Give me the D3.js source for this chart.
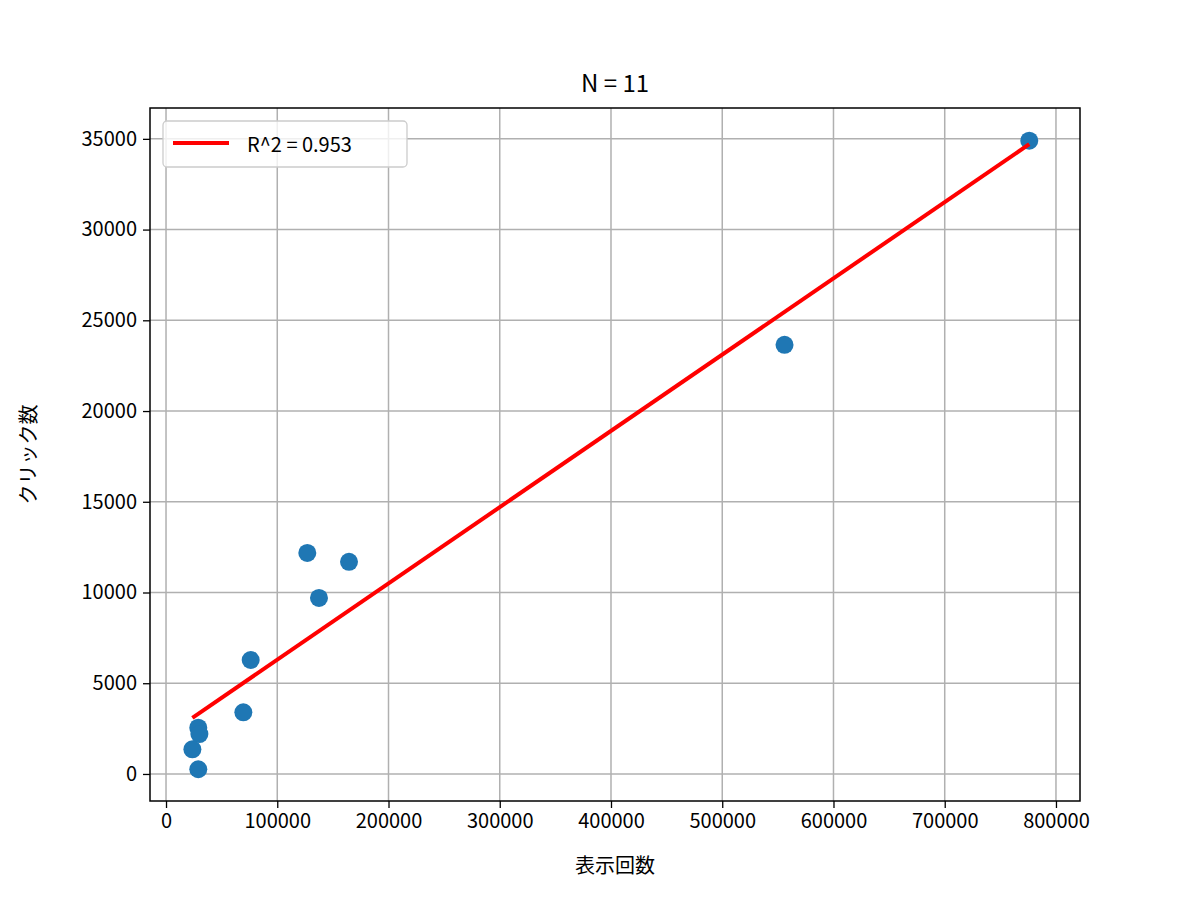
<!DOCTYPE html>
<html><head><meta charset="utf-8">
<script src="https://cdn.jsdelivr.net/npm/d3@7"></script>
<style>body{margin:0;background:#fff}</style>
</head><body>
<svg id="chart" width="1200" height="900"></svg>
<script>
// impressions vs clicks
const impressions = [776000, 556000, 127000, 137500, 164500, 76100, 69500, 29000, 30000, 23700, 29000];
const clicks = [34900, 23650, 12180, 9700, 11690, 6280, 3400, 2550, 2200, 1360, 260];
const xTicks = [0, 100000, 200000, 300000, 400000, 500000, 600000, 700000, 800000];
const yTicks = [0, 5000, 10000, 15000, 20000, 25000, 30000, 35000];
const fitSlope = 0.04203;
const fitIntercept = 2094;
const fitLabel = "R^2 = 0.953";

const svg = d3.select("#chart");
const font = "'Noto Sans CJK JP', 'DejaVu Sans', sans-serif";
const L = 150, R = 1080, T = 108, B = 801;

const x = d3.scaleLinear().domain([-14400, 821600]).range([L, R]);
const y = d3.scaleLinear().domain([-1490, 36700]).range([B, T]);

// grid
svg.append("g").selectAll("line").data(xTicks).join("line")
    .attr("x1", d => x(d)).attr("x2", d => x(d)).attr("y1", T).attr("y2", B)
    .attr("stroke", "#b0b0b0").attr("stroke-width", 1.5);
svg.append("g").selectAll("line").data(yTicks).join("line")
    .attr("y1", d => y(d)).attr("y2", d => y(d)).attr("x1", L).attr("x2", R)
    .attr("stroke", "#b0b0b0").attr("stroke-width", 1.5);

const xAxis = svg.append("g").attr("transform", "translate(0," + B + ")")
    .call(d3.axisBottom(x).tickValues(xTicks).tickFormat(d3.format("d")).tickSize(7).tickPadding(6));
const yAxis = svg.append("g").attr("transform", "translate(" + L + ",0)")
    .call(d3.axisLeft(y).tickValues(yTicks).tickFormat(d3.format("d")).tickSize(7).tickPadding(6));
[xAxis, yAxis].forEach(a => {
    a.select(".domain").remove();
    a.selectAll("text").style("font-family", font).style("font-size", "20px").attr("fill", "#000");
    a.selectAll("line").attr("stroke", "#000").attr("stroke-width", 1.3);
});

// points
svg.append("g").selectAll("circle").data(impressions).join("circle")
    .attr("cx", d => x(d)).attr("cy", (d, i) => y(clicks[i])).attr("r", 9)
    .attr("fill", "#1f77b4");

// fit line
const xmin = d3.min(impressions), xmax = d3.max(impressions);
svg.append("line")
    .attr("x1", x(xmin)).attr("y1", y(fitSlope * xmin + fitIntercept))
    .attr("x2", x(xmax)).attr("y2", y(fitSlope * xmax + fitIntercept))
    .attr("stroke", "red").attr("stroke-width", 4);

// frame
svg.append("rect").attr("x", L).attr("y", T).attr("width", R - L).attr("height", B - T)
    .attr("fill", "none").attr("stroke", "#000").attr("stroke-width", 1.5);

// legend
svg.append("rect").attr("x", 163).attr("y", 121).attr("width", 244).attr("height", 46).attr("rx", 4)
    .attr("fill", "#fff").attr("fill-opacity", 0.8).attr("stroke", "#ccc").attr("stroke-width", 1.3);
svg.append("line").attr("x1", 173).attr("x2", 229).attr("y1", 143).attr("y2", 143)
    .attr("stroke", "red").attr("stroke-width", 4);
svg.append("text").text(fitLabel).attr("x", 247).attr("y", 143).attr("dominant-baseline", "central")
    .style("font-family", font).style("font-size", "20px");

// titles
svg.append("text").text("N = 11").attr("x", (L + R) / 2).attr("y", 92).attr("text-anchor", "middle")
    .style("font-family", font).style("font-size", "24px");
svg.append("text").text("表示回数").attr("x", (L + R) / 2).attr("y", 873).attr("text-anchor", "middle")
    .style("font-family", font).style("font-size", "20px");
svg.append("text").text("クリック数").attr("text-anchor", "middle")
    .attr("transform", "translate(36," + (T + B) / 2 + ") rotate(-90)")
    .style("font-family", font).style("font-size", "20px");
</script>
</body></html>
